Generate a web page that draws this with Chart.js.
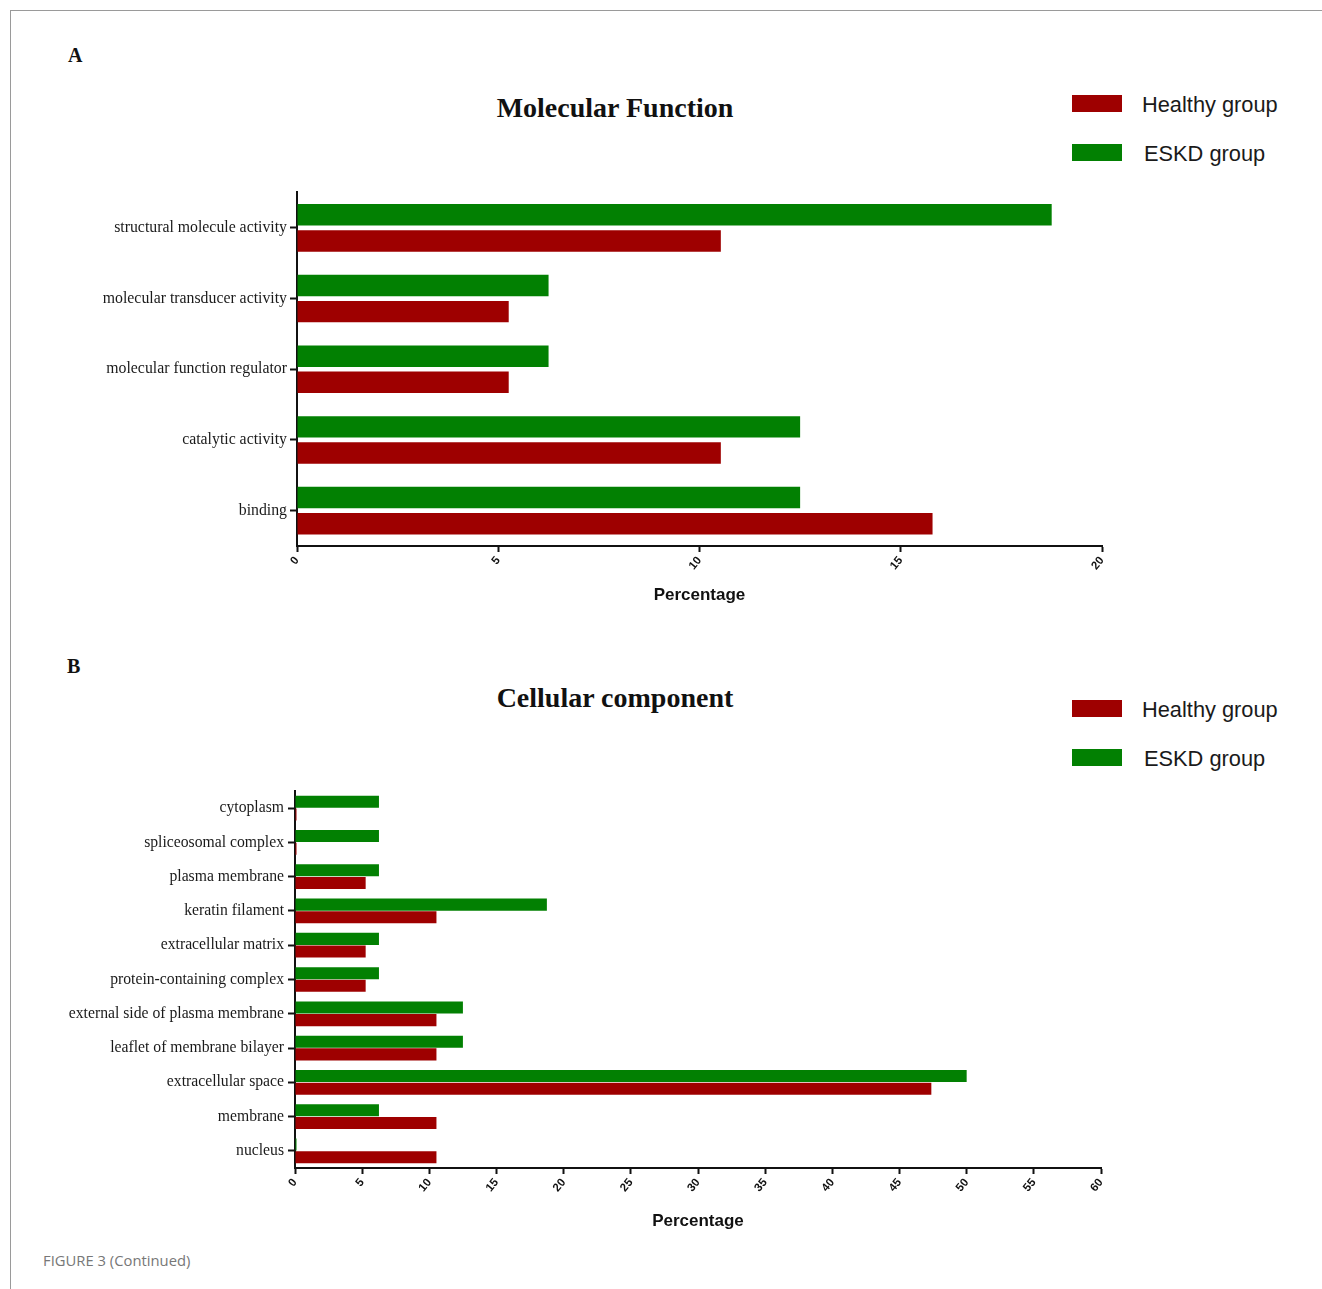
<!DOCTYPE html>
<html>
<head>
<meta charset="utf-8">
<script src="https://cdn.jsdelivr.net/npm/chart.js@4"></script>
<style>
  html, body { margin: 0; padding: 0; background: #fff; }
  body { width: 1322px; height: 1289px; position: relative; overflow: hidden; }
  .frame-top { position: absolute; left: 10px; top: 10px; width: 1312px; height: 1px; background: #9a9a9a; }
  .frame-left { position: absolute; left: 10px; top: 10px; width: 1px; height: 1279px; background: #9a9a9a; }
  .panel { position: absolute; font-family: "Liberation Serif", "Times New Roman", serif; font-weight: bold; font-size: 20px; color: #111; }
  .title { position: absolute; font-family: "Liberation Serif", "Times New Roman", serif; font-weight: bold; font-size: 28px; color: #111; width: 400px; text-align: center; line-height: 30px; }
  .leg-box { position: absolute; width: 50px; height: 17px; }
  .leg-text { position: absolute; font-family: "Liberation Sans", Arial, sans-serif; font-size: 21.8px; color: #1a1a1a; line-height: 24px; }
  .caption { position: absolute; left: 43px; top: 1250px; font-family: "Open Sans", "Noto Sans", sans-serif; font-size: 14.8px; color: #777; }
  canvas { position: absolute; }
</style>
</head>
<body>
<div class="frame-top"></div>
<div class="frame-left"></div>

<div class="panel" style="left:68px; top:44px;">A</div>
<div class="title" id="titleA" style="left:415px; top:93px;"></div>
<div class="leg-box" id="legA0" style="left:1072px; top:95px;"></div>
<div class="leg-text" id="legA0t" style="left:1142px; top:93px;"></div>
<div class="leg-box" id="legA1" style="left:1072px; top:144px;"></div>
<div class="leg-text" id="legA1t" style="left:1144px; top:142px;"></div>
<canvas id="chartA" width="1160" height="440" style="left:0px; top:180px;"></canvas>

<div class="panel" style="left:67px; top:655px;">B</div>
<div class="title" id="titleB" style="left:415px; top:683px;"></div>
<div class="leg-box" id="legB0" style="left:1072px; top:700px;"></div>
<div class="leg-text" id="legB0t" style="left:1142px; top:698px;"></div>
<div class="leg-box" id="legB1" style="left:1072px; top:749px;"></div>
<div class="leg-text" id="legB1t" style="left:1144px; top:747px;"></div>
<canvas id="chartB" width="1160" height="480" style="left:0px; top:770px;"></canvas>

<div class="caption">FIGURE 3 (Continued)</div>

<script>
// ---------- DATA ----------
const seriesNames = ['Healthy group', 'ESKD group'];
const seriesColors = ['#9e0000', '#028002'];

const mfTitle = 'Molecular Function';
const mfCategories = ['structural molecule activity', 'molecular transducer activity', 'molecular function regulator', 'catalytic activity', 'binding'];
const mfHealthy = [10.53, 5.26, 5.26, 10.53, 15.79];
const mfESKD = [18.75, 6.25, 6.25, 12.5, 12.5];
const mfTicks = [0, 5, 10, 15, 20];

const ccTitle = 'Cellular component';
const ccCategories = ['cytoplasm', 'spliceosomal complex', 'plasma membrane', 'keratin filament', 'extracellular matrix', 'protein-containing complex', 'external side of plasma membrane', 'leaflet of membrane bilayer', 'extracellular space', 'membrane', 'nucleus'];
const ccHealthy = [0, 0, 5.26, 10.53, 5.26, 5.26, 10.53, 10.53, 47.37, 10.53, 10.53];
const ccESKD = [6.25, 6.25, 6.25, 18.75, 6.25, 6.25, 12.5, 12.5, 50, 6.25, 0];
const ccTicks = [0, 5, 10, 15, 20, 25, 30, 35, 40, 45, 50, 55, 60];

const xTitle = 'Percentage';

// ---------- HTML text ----------
document.getElementById('titleA').textContent = mfTitle;
document.getElementById('titleB').textContent = ccTitle;
['A', 'B'].forEach(p => {
  [0, 1].forEach(i => {
    document.getElementById('leg' + p + i).style.background = seriesColors[i];
    document.getElementById('leg' + p + i + 't').textContent = seriesNames[i];
  });
});

// ---------- Charts ----------
function makeChart(id, cats, healthy, eskd, ticks, opts) {
  const ctx = document.getElementById(id).getContext('2d');
  return new Chart(ctx, {
    type: 'bar',
    data: {
      labels: cats,
      datasets: [
        { label: seriesNames[1], data: eskd, backgroundColor: seriesColors[1], borderWidth: 0 },
        { label: seriesNames[0], data: healthy, backgroundColor: seriesColors[0], borderWidth: 0 }
      ]
    },
    options: {
      indexAxis: 'y',
      responsive: false,
      animation: false,
      maintainAspectRatio: false,
      categoryPercentage: opts.cp,
      barPercentage: opts.bp,
      minBarLength: 1.5,
      layout: { padding: { top: opts.padTop, right: opts.padRight, left: 0, bottom: 0 } },
      plugins: { legend: { display: false }, tooltip: { enabled: false }, title: { display: false } },
      scales: {
        x: {
          type: 'linear',
          min: ticks[0],
          max: ticks[ticks.length - 1],
          afterBuildTicks: s => { s.ticks = ticks.map(v => ({ value: v })); },
          afterFit: s => { s.height = opts.xHeight; },
          border: { display: true, color: '#111', width: 2 },
          grid: { display: true, drawOnChartArea: false, drawTicks: true, tickLength: 6, tickColor: '#111', tickWidth: 2 },
          ticks: {
            autoSkip: false, minRotation: 50, maxRotation: 50, padding: 2,
            color: '#111', font: { family: '"Liberation Sans", Arial, sans-serif', size: 11.5, weight: 'bold' }
          },
          title: {
            display: true, text: xTitle, color: '#111',
            font: { family: '"Liberation Sans", Arial, sans-serif', size: 17, weight: 'bold' },
            padding: { top: opts.titlePad, bottom: opts.titlePad }
          }
        },
        y: {
          afterFit: s => { s.width = opts.yWidth; },
          border: { display: true, color: '#111', width: 2 },
          grid: { display: true, offset: false, drawOnChartArea: false, drawTicks: true, tickLength: 7, tickColor: '#111', tickWidth: 2 },
          ticks: {
            padding: opts.yPad, color: '#1a1a1a',
            font: { family: '"Liberation Serif", "Times New Roman", serif', size: opts.yFont }
          }
        }
      }
    }
  });
}

makeChart('chartA', mfCategories, mfHealthy, mfESKD, mfTicks,
  { cp: 0.74, bp: 0.82, padTop: 12, padRight: 58, xHeight: 74, yWidth: 297, titlePad: 14, yFont: 15.8, yPad: 3 });
makeChart('chartB', ccCategories, ccHealthy, ccESKD, ccTicks,
  { cp: 0.74, bp: 0.95, padTop: 21, padRight: 59, xHeight: 82, yWidth: 295, titlePad: 18, yFont: 15.7, yPad: 4 });
</script>
</body>
</html>
